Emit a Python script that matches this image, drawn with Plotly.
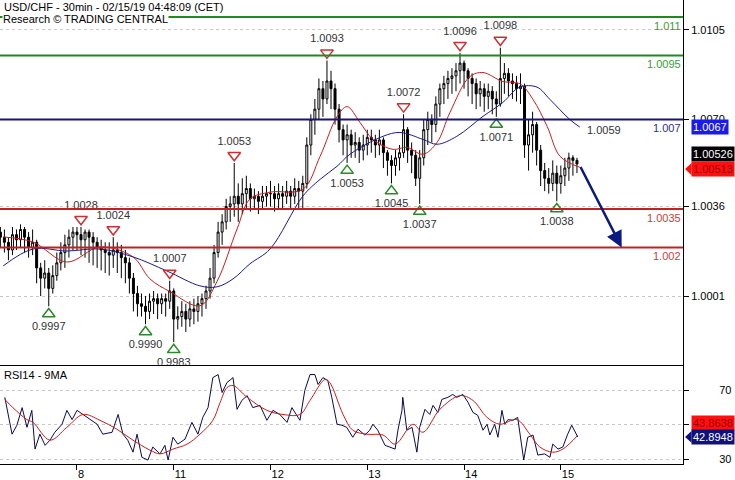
import plotly.graph_objects as go
from plotly.subplots import make_subplots

# hourly bars, x = hours from Fri 8 Feb 00:00 (trading time, weekend skipped)
hours = list(range(-19, 125))

closes = [
    # 7 Feb (from 05:00)
    1.0024, 1.0022, 1.0019, 1.0025, 1.0023, 1.0027, 1.0024, 1.0020, 1.0022, 1.0012,
    1.0008, 1.0010, 1.0004, 1.0009, 1.0014, 1.0018, 1.0021, 1.0024, 1.0026,
    # 8 Feb
    1.0025, 1.0023, 1.0026, 1.0024, 1.0022, 1.0020, 1.0019, 1.0018, 1.0017, 1.0019,
    1.0018, 1.0016, 1.0014, 1.0008, 1.0002, 0.9998, 0.9997, 0.9995, 0.9999, 1.0000,
    0.9998, 1.0000, 0.9999, 1.0003,
    # 11 Feb
    0.9992, 0.9993, 0.9995, 0.9992, 0.9996, 0.9995, 0.9998, 1.0000, 1.0003, 1.0008,
    1.0018, 1.0026, 1.0030, 1.0036, 1.0037, 1.0040, 1.0037, 1.0041, 1.0043, 1.0039,
    1.0040, 1.0038, 1.0040, 1.0041,
    # 12 Feb
    1.0041, 1.0039, 1.0041, 1.0040, 1.0042, 1.0040, 1.0043, 1.0042, 1.0045, 1.0060,
    1.0070, 1.0074, 1.0082, 1.0078, 1.0085, 1.0082, 1.0074, 1.0066, 1.0062, 1.0064,
    1.0060, 1.0061, 1.0058, 1.0060,
    # 13 Feb
    1.0063, 1.0062, 1.0060, 1.0062, 1.0057, 1.0054, 1.0052, 1.0055, 1.0057, 1.0066,
    1.0058, 1.0056, 1.0047, 1.0055, 1.0066, 1.0070, 1.0068, 1.0076, 1.0082, 1.0084,
    1.0086, 1.0087, 1.0089, 1.0092,
    # 14 Feb
    1.0089, 1.0086, 1.0084, 1.0080, 1.0082, 1.0079, 1.0081, 1.0078, 1.0076, 1.0086,
    1.0088, 1.0085, 1.0084, 1.0082, 1.0083, 1.0060, 1.0064, 1.0068, 1.0058, 1.0050,
    1.0047, 1.0045, 1.0049, 1.0045,
    # 15 Feb
    1.0048, 1.0051, 1.0055, 1.0054, 1.00526,
]
highs = [
    1.0028, 1.0027, 1.0024, 1.0028, 1.0027, 1.0029, 1.0028, 1.0026, 1.0027, 1.0023,
    1.0014, 1.0015, 1.0012, 1.0013, 1.0018, 1.0022, 1.0025, 1.0027, 1.0028,
    1.0028, 1.0028, 1.0027, 1.0027, 1.0026, 1.0024, 1.0023, 1.0022, 1.0022, 1.0024,
    1.0022, 1.0021, 1.0019, 1.0016, 1.0010, 1.0005, 1.0002, 1.0001, 1.0002, 1.0003,
    1.0002, 1.0002, 1.0002, 1.0007,
    1.0004, 0.9997, 0.9999, 0.9998, 0.9999, 1.0000, 1.0001, 1.0002, 1.0005, 1.0012,
    1.0021, 1.0030, 1.0033, 1.0039, 1.0040, 1.0053, 1.0045, 1.0047, 1.0048, 1.0045,
    1.0043, 1.0042, 1.0044, 1.0044,
    1.0046, 1.0044, 1.0045, 1.0044, 1.0046, 1.0044, 1.0047, 1.0046, 1.0048, 1.0063,
    1.0072, 1.0078, 1.0086, 1.0085, 1.0093, 1.0089, 1.0084, 1.0076, 1.0068, 1.0068,
    1.0066, 1.0065, 1.0063, 1.0064,
    1.0066, 1.0066, 1.0064, 1.0066, 1.0063, 1.0058, 1.0056, 1.0058, 1.0060, 1.0072,
    1.0067, 1.0061, 1.0058, 1.0058, 1.0070, 1.0073, 1.0072, 1.0079, 1.0084, 1.0087,
    1.0089, 1.0090, 1.0092, 1.0096,
    1.0093, 1.0090, 1.0088, 1.0086, 1.0085, 1.0084, 1.0084, 1.0083, 1.0081, 1.0098,
    1.0092, 1.0090, 1.0088, 1.0087, 1.0088, 1.0084, 1.0070, 1.0073, 1.0069, 1.0060,
    1.0053, 1.0051, 1.0054, 1.0052,
    1.0052, 1.0055, 1.0057, 1.0056, 1.0055,
]
lows = [
    1.0020, 1.0018, 1.0015, 1.0017, 1.0019, 1.0020, 1.0018, 1.0016, 1.0017, 1.0006,
    1.0001, 1.0004, 0.9997, 1.0002, 1.0007, 1.0011, 1.0012, 1.0016, 1.0019,
    1.0019, 1.0017, 1.0016, 1.0014, 1.0013, 1.0012, 1.0011, 1.0010, 1.0009, 1.0012,
    1.0010, 1.0008, 1.0006, 1.0002, 0.9995, 0.9993, 0.9993, 0.9990, 0.9992, 0.9994,
    0.9992, 0.9994, 0.9993, 0.9996,
    0.9983, 0.9988, 0.9989, 0.9987, 0.9989, 0.9990, 0.9991, 0.9993, 0.9996, 1.0000,
    1.0006, 1.0016, 1.0021, 1.0027, 1.0030, 1.0032, 1.0030, 1.0033, 1.0035, 1.0034,
    1.0035, 1.0033, 1.0035, 1.0036,
    1.0036, 1.0034, 1.0035, 1.0035, 1.0037, 1.0035, 1.0037, 1.0035, 1.0035, 1.0043,
    1.0056, 1.0064, 1.0070, 1.0071, 1.0076, 1.0074, 1.0068, 1.0061, 1.0056, 1.0053,
    1.0055, 1.0055, 1.0053, 1.0054,
    1.0056, 1.0057, 1.0055, 1.0056, 1.0051, 1.0048, 1.0045, 1.0048, 1.0050, 1.0055,
    1.0053, 1.0049, 1.0044, 1.0037, 1.0052, 1.0060, 1.0061, 1.0065, 1.0071, 1.0076,
    1.0078, 1.0080, 1.0081, 1.0084,
    1.0082, 1.0079, 1.0076, 1.0074, 1.0075, 1.0073, 1.0074, 1.0072, 1.0071, 1.0075,
    1.0080, 1.0079, 1.0078, 1.0077, 1.0076, 1.0055, 1.0050, 1.0057, 1.0052, 1.0044,
    1.0042, 1.0041, 1.0042, 1.0038,
    1.0041, 1.0044, 1.0046, 1.0048, 1.0049,
]
first_open = 1.0026
opens = [first_open] + closes[:-1]
assert len(hours) == len(closes) == len(highs) == len(lows)

# moving averages
red_ma_hours = [-18.3, -10.9, -2.5, 5.7, 13.9, 18.1, 23.1, 30.5, 34.7, 39.7, 42.9, 47.9, 56.0,
                60.3, 64.5, 67.0, 70.2, 73.4, 78.4, 81.8, 85.8, 89.3, 92.5, 97.4, 100.7, 105.6,
                109.8, 113.1, 116.6, 119.8, 124.7]
red_ma = [1.00241, 1.00221, 1.00143, 1.00202, 1.00163, 1.00077, 1.00027, 0.99972, 1.00066,
          1.00272, 1.00389, 1.00416, 1.00427, 1.00556, 1.00711, 1.00750, 1.00688, 1.00622,
          1.00583, 1.00591, 1.00564, 1.00610, 1.00727, 1.00867, 1.00883, 1.00848, 1.00840,
          1.00778, 1.00673, 1.00556, 1.00513]
blue_ma_hours = [-18.3, -10.9, -2.5, 5.7, 13.9, 22.3, 30.5, 34.7, 38.7, 42.9, 47.9, 56.0, 60.3,
                 64.5, 67.7, 75.9, 80.1, 85.8, 89.3, 94.2, 100.7, 105.6, 109.8, 114.1, 117.3,
                 122.2, 124.7]
blue_ma = [1.00128, 1.00194, 1.00186, 1.00194, 1.00163, 1.00108, 1.00050, 1.00046, 1.00077,
           1.00136, 1.00194, 1.00400, 1.00466, 1.00517, 1.00564, 1.00634, 1.00649, 1.00622,
           1.00603, 1.00634, 1.00712, 1.00766, 1.00826, 1.00826, 1.00778, 1.00700, 1.00670]

# pivots
high_piv_x = [1, 9, 23, 39, 62, 81, 95, 105]
high_piv = [1.0028, 1.0024, 1.0007, 1.0053, 1.0093, 1.0072, 1.0096, 1.0098]
low_piv_x = [-7, 17, 24, 67, 78, 85, 104, 119]
low_piv = [0.9997, 0.9990, 0.9983, 1.0053, 1.0045, 1.0037, 1.0071, 1.0038]

# support / resistance levels
levels = [1.011, 1.0095, 1.007, 1.0035, 1.002]
level_labels = ["1.011", "1.0095", "1.007", "1.0035", "1.002"]
level_colors = ["#1f8a1f", "#1f8a1f", "#14147a", "#c42020", "#c42020"]
level_text_colors = ["#3d9a3d", "#3d9a3d", "#30308a", "#c84040", "#c84040"]

# expected path arrow
arrow_from = (124.7, 1.0052)
arrow_to = (135.1, 1.0020)

# RSI
rsi_hours = [-17.9, -16.1, -14.9, -13.6, -12.4, -11.2, -10.4, -9.2, -7.9, -6.7, -5.5, -3.7, -2.5,
             -1.2, 0, 1.5, 3.2, 5.0, 6.4, 8.7, 10.2, 11.4, 12.6, 13.9, 14.9, 16.1, 17.6, 18.8,
             20.6, 21.8, 22.6, 23.8, 25.0, 26.8, 28.5, 30.0, 31.2, 32.5, 33.7, 35.0, 36.0, 37.2,
             38.7, 39.7, 40.9, 42.2, 43.6, 45.4, 47.1, 48.6, 50.3, 52.1, 53.3, 55.3, 56.5, 57.8,
             59.0, 59.8, 61.0, 62.2, 63.2, 64.5, 65.7, 66.9, 68.4, 69.7, 71.4, 72.6, 73.4, 74.6,
             76.4, 77.6, 78.9, 79.6, 80.6, 80.8, 81.8, 83.1, 84.3, 85.0, 86.3, 87.5, 88.3, 89.5,
             90.5, 92.0, 93.2, 94.2, 95.7, 97.0, 98.2, 99.4, 100.7, 101.7, 102.4, 103.6, 104.4,
             105.4, 106.1, 106.9, 108.1, 109.3, 110.3, 110.8, 111.8, 113.1, 114.3, 116.0, 117.3,
             118.0, 119.3, 120.5, 121.7, 122.7, 124.2]
rsi_values = [66, 44.5, 49.7, 60, 48.5, 58.4, 35.8, 44.5, 38, 41, 45.6, 50.3, 58.4,
              53, 58.4, 56, 53, 50.3, 44.5, 45.6, 56, 44.5, 41, 34, 44.5, 31, 29.4, 37,
              33, 38, 29.4, 42.7, 38.7, 41.6, 51.4, 44.5, 54.3, 60, 77.5, 79.3, 68.8, 74.6,
              77.5, 59, 64.2, 67, 60, 61.3, 52.6, 58.4, 56, 51.4, 60, 52.6, 70, 79.3,
              79.3, 73.5, 77.5, 75.8, 66, 50.3, 49.7, 48.5, 42.7, 47.4, 44, 46.8, 50.3, 46.8,
              38, 37, 35.8, 46.8, 58.4, 66, 46.8, 48.5, 34, 48.5, 59, 56, 61.3, 57.2,
              64.8, 66, 67.7, 66, 67.7, 63, 57.2, 55.5, 46.8, 50.3, 44, 50.3, 42.7,
              58.4, 50.3, 53, 52.6, 54.3, 38.7, 29.4, 42.7, 44, 32.3, 33, 31,
              38.7, 35.8, 37, 44.5, 49.7, 42.8948]
rsi_ma_hours = [-17.9, -15.9, -12.4, -10.9, -6.7, -2.5, 1.5, 5.7, 9.9, 13.9, 18.1, 20.6, 23.8,
                27.3, 30.5, 33.7, 35.5, 37.2, 38.7, 42.2, 47.1, 51.1, 55.3, 57.8, 61.5, 62.7,
                66.0, 68.4, 71.9, 75.9, 78.9, 83.3, 85.8, 90.0, 95.0, 98.2, 101.7, 104.9,
                109.1, 112.3, 114.8, 118.0, 120.5, 124.2]
rsi_ma = [64.8, 60, 53, 51.4, 41, 48.5, 56, 52.6, 47.4, 41, 35.2, 33, 35.8,
          38.7, 44.5, 52.6, 63, 71.7, 72.9, 66, 58.4, 56, 56, 64.2, 76.4, 74.6,
          56, 46.8, 44.5, 44, 38.7, 50.3, 45.6, 59, 67, 64.2, 54.3, 50.3,
          53, 44.5, 37, 34, 35.8, 43.8638]
assert len(rsi_hours) == len(rsi_values) and len(rsi_ma_hours) == len(rsi_ma)

day_ticks = [0, 24, 48, 72, 96, 120]
day_labels = ["8", "11", "12", "13", "14", "15"]
price_ticks = [1.0001, 1.0036, 1.0070, 1.0105]
price_tick_text = ["1.0001", "1.0036", "1.0070", "1.0105"]

FONT = "Liberation Sans"
PIV_OFF = 0.0003

fig = make_subplots(rows=2, cols=1, shared_xaxes=True, vertical_spacing=0,
                    row_heights=[367, 100])

# level lines (drawn over the bars, like the original)
for lv, lab, col, tcol in zip(levels, level_labels, level_colors, level_text_colors):
    fig.add_shape(type="line", xref="x domain", yref="y", x0=0, x1=1, y0=lv, y1=lv,
                  line=dict(color=col, width=2), layer="above")
    fig.add_annotation(xref="x domain", yref="y", x=1, y=lv, text=lab, showarrow=False,
                       xanchor="right", yanchor="top", yshift=-1,
                       font=dict(family=FONT, size=11, color=tcol))

fig.add_trace(go.Candlestick(
    x=hours, open=opens, high=highs, low=lows, close=closes,
    increasing=dict(line=dict(color="black", width=1), fillcolor="white"),
    decreasing=dict(line=dict(color="black", width=1), fillcolor="black"),
    whiskerwidth=0, hoverinfo="skip", showlegend=False), row=1, col=1)

fig.add_trace(go.Scatter(x=red_ma_hours, y=red_ma, mode="lines", line=dict(color="#c81e1e", width=1),
                         line_shape="spline", showlegend=False, hoverinfo="skip"), row=1, col=1)
fig.add_trace(go.Scatter(x=blue_ma_hours, y=blue_ma, mode="lines", line=dict(color="#1a1a8c", width=1),
                         line_shape="spline", showlegend=False, hoverinfo="skip"), row=1, col=1)

fig.add_trace(go.Scatter(
    x=high_piv_x, y=[p + PIV_OFF for p in high_piv], mode="markers+text",
    text=["%.4f" % p for p in high_piv], textposition="top center",
    textfont=dict(family=FONT, size=11, color="#333333"),
    marker=dict(symbol="triangle-down-open", size=11, color="#c83232", line=dict(width=1.5)),
    showlegend=False, hoverinfo="skip"), row=1, col=1)
fig.add_trace(go.Scatter(
    x=low_piv_x, y=[p - PIV_OFF for p in low_piv], mode="markers+text",
    text=["%.4f" % p for p in low_piv], textposition="bottom center",
    textfont=dict(family=FONT, size=11, color="#333333"),
    marker=dict(symbol="triangle-up-open", size=11, color="#2a8a2a", line=dict(width=1.5)),
    showlegend=False, hoverinfo="skip"), row=1, col=1)

fig.add_annotation(x=126, y=1.0066, xref="x", yref="y", text="1.0059", showarrow=False,
                   xanchor="left", font=dict(family=FONT, size=11, color="#333333"))

# projected arrow
fig.add_annotation(x=arrow_to[0], y=arrow_to[1], ax=arrow_from[0], ay=arrow_from[1],
                   xref="x", yref="y", axref="x", ayref="y", text="", showarrow=True,
                   arrowhead=2, arrowsize=1.3, arrowwidth=2.5, arrowcolor="#0a1a80")

# RSI
fig.add_trace(go.Scatter(x=rsi_hours, y=rsi_values, mode="lines", line=dict(color="#0a0a50", width=1),
                         showlegend=False, hoverinfo="skip"), row=2, col=1)
fig.add_trace(go.Scatter(x=rsi_ma_hours, y=rsi_ma, mode="lines", line=dict(color="#c81e1e", width=1),
                         line_shape="spline", showlegend=False, hoverinfo="skip"), row=2, col=1)

# right-hand value boxes
def value_box(val, txt, yref, bg, fg, yshift=0):
    fig.add_annotation(xref="paper", yref=yref, x=1, y=val, xanchor="left", xshift=8, yshift=yshift,
                       text=txt, showarrow=False, bgcolor=bg, borderpad=1,
                       font=dict(family=FONT, size=11, color=fg))

value_box(blue_ma[-1], "1.0067", "y", "#1a1aee", "white")
value_box(closes[-1], "1.00526", "y", "black", "white", yshift=10)
value_box(red_ma[-1], "1.00513", "y", "#ff1010", "#a00000", yshift=-2)
value_box(rsi_ma[-1], "43.8638", "y2", "#ff1010", "#a00000", yshift=12)
value_box(rsi_values[-1], "42.8948", "y2", "#10107a", "white")

def box_tip(val, yref, half, color):
    fig.add_shape(type="path", xref="paper", yref=yref,
                  path=f"M 1.003,{val} L 1.0125,{val + half} L 1.0125,{val - half} Z",
                  fillcolor=color, line=dict(width=0))

box_tip(1.00506, "y", 0.00024, "#ff1010")
box_tip(rsi_values[-1], "y2", 3.4, "#10107a")

# titles
fig.add_annotation(xref="paper", yref="paper", x=0, y=1, xanchor="left", yanchor="top", xshift=2,
                   yshift=1, text="USD/CHF - 30min - 02/15/19 04:48:09 (CET)", showarrow=False,
                   font=dict(family=FONT, size=11, color="black"))
fig.add_annotation(xref="paper", yref="paper", x=0, y=1, xanchor="left", yanchor="top", xshift=2,
                   yshift=-12, text="Research © TRADING CENTRAL", showarrow=False,
                   bgcolor="white", borderpad=0,
                   font=dict(family=FONT, size=11, color="black"))
fig.add_annotation(xref="x domain", yref="y2 domain", x=0, y=1, xanchor="left", yanchor="top", xshift=2,
                   yshift=-2, text="RSI14 - 9MA", showarrow=False,
                   font=dict(family=FONT, size=11, color="black"))

fig.update_xaxes(range=[-19.09, 150.3], showgrid=False, zeroline=False, rangeslider_visible=False,
                 showline=True, linecolor="black", linewidth=1)
fig.update_xaxes(showticklabels=False, ticks="", row=1, col=1)
fig.update_xaxes(tickvals=day_ticks, ticktext=day_labels, ticks="outside", ticklen=5, tickcolor="black",
                 ticklabelposition="outside right", tickfont=dict(family=FONT, size=11, color="black"),
                 row=2, col=1)
fig.update_yaxes(side="right", range=[0.997422, 1.011664], tickvals=price_ticks, ticktext=price_tick_text,
                 showgrid=True, gridcolor="#c8c8c8", griddash="dot", zeroline=False,
                 showline=True, linecolor="black", linewidth=1, ticks="outside", ticklen=5,
                 tickcolor="black", tickfont=dict(family=FONT, size=11, color="black"), row=1, col=1)
fig.update_yaxes(side="right", range=[27.1, 85.07], tickvals=[30, 50, 70], ticktext=["30", "", "70"],
                 showgrid=True, gridcolor="#c8c8c8", griddash="dot", zeroline=False,
                 showline=True, linecolor="black", linewidth=1, ticks="outside", ticklen=5,
                 tickcolor="black", ticklabelstandoff=28,
                 tickfont=dict(family=FONT, size=11, color="black"), row=2, col=1)

fig.update_layout(width=735, height=480, margin=dict(l=0, r=52, t=0, b=13),
                  plot_bgcolor="white", paper_bgcolor="white", showlegend=False, hovermode=False)

# page body has a default 8px margin; drop it so the chart sits at the window's corner
fig.write_html("out.html", config={"displayModeBar": False},
               post_script="document.body.style.margin='0';")
